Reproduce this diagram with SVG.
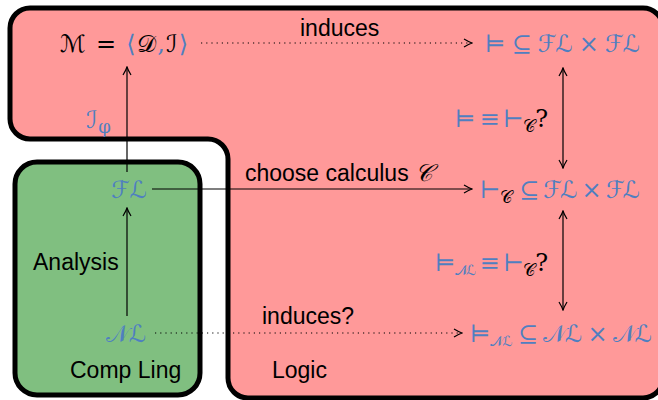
<svg xmlns="http://www.w3.org/2000/svg" width="658" height="400" viewBox="0 0 658 400">
<style>
.reg{stroke:#000;stroke-width:5;stroke-linejoin:round}
.t{font-family:"Liberation Sans","DejaVu Sans",sans-serif;font-size:23px;fill:#000}
.m{font-family:"DejaVu Serif","DejaVu Sans",serif;font-size:24px;fill:#4F7FC0}
.k{fill:#000}
.ln{stroke:#000;stroke-width:1.2;fill:none}
.dot{stroke:#000;stroke-width:1.2;fill:none;stroke-dasharray:1.2 4}
</style>
<defs>
<marker id="ah" viewBox="0 0 10 10" refX="9" refY="5" markerWidth="10" markerHeight="10" markerUnits="userSpaceOnUse" orient="auto-start-reverse">
<path d="M1,1 Q6,4 9,5 Q6,6 1,9" fill="none" stroke="#000" stroke-width="1.2"/>
</marker>
</defs>
<g id="logic">
<path class="reg" fill="#FF9999" d="M10,28 A20,20 0 0 1 30,8 H643 A20,20 0 0 1 663,28 V378 A20,20 0 0 1 643,398 H248 A20,20 0 0 1 228,378 V159 A20,20 0 0 0 208,139 H30 A20,20 0 0 1 10,119 Z"/>
<text class="t" x="272" y="378">Logic</text>
</g>
<g id="compling">
<rect class="reg" fill="#80BF80" x="15" y="162" width="185" height="233" rx="22"/>
<text class="t" x="70" y="378">Comp Ling</text>
<text class="t" x="33" y="270">Analysis</text>
</g>
<g id="connectors">
<line class="dot" x1="201" y1="43" x2="472" y2="43" marker-end="url(#ah)"/>
<line class="ln" x1="152" y1="189" x2="472" y2="189" marker-end="url(#ah)"/>
<line class="dot" x1="155" y1="333" x2="462" y2="333" marker-end="url(#ah)"/>
<line class="ln" x1="127" y1="172" x2="127" y2="67" marker-end="url(#ah)"/>
<line class="ln" x1="127" y1="316" x2="127" y2="208" marker-end="url(#ah)"/>
<line class="ln" x1="563" y1="68" x2="563" y2="168" marker-start="url(#ah)" marker-end="url(#ah)"/>
<line class="ln" x1="563" y1="211" x2="563" y2="310" marker-start="url(#ah)" marker-end="url(#ah)"/>
<text class="t" x="300" y="36">induces</text>
<text class="t" x="245" y="181">choose calculus <tspan class="m k" font-size="24" font-style="italic">𝒞</tspan></text>
<text class="t" x="262" y="324">induces?</text>
<text class="m" x="86" y="128">ℐ<tspan font-size="18" dy="5" dx="1">φ</tspan></text>
<text class="m" x="455" y="127" textLength="93" lengthAdjust="spacing">⊨ ≡ ⊢<tspan class="k" font-size="17" dy="5" dx="1">𝒞</tspan><tspan class="k" dy="-5" dx="2">?</tspan></text>
<text class="m" x="435" y="271" textLength="113" lengthAdjust="spacing">⊨<tspan font-size="14" dy="4" dx="1">𝒩ℒ</tspan><tspan dy="-4"> ≡ ⊢</tspan><tspan class="k" font-size="17" dy="5" dx="1">𝒞</tspan><tspan class="k" dy="-5" dx="2">?</tspan></text>
</g>
<g id="model">
<text class="m" x="60" y="52" textLength="128" lengthAdjust="spacing"><tspan class="k">ℳ =</tspan> ⟨<tspan class="k">𝒟</tspan>,<tspan class="k">ℐ</tspan>⟩</text>
</g>
<g id="entail">
<text class="m" x="485" y="52" textLength="155" lengthAdjust="spacing">⊨ ⊆ ℱℒ × ℱℒ</text>
</g>
<g id="FL">
<text class="m" x="111" y="198">ℱℒ</text>
</g>
<g id="derive">
<text class="m" x="480" y="198" textLength="160" lengthAdjust="spacing">⊢<tspan class="k" font-size="17" dy="5" dx="1">𝒞</tspan><tspan dy="-5" dx="3"> ⊆ ℱℒ × ℱℒ</tspan></text>
</g>
<g id="NL">
<text class="m" x="106" y="342">𝒩ℒ</text>
</g>
<g id="entailNL">
<text class="m" x="470" y="342" textLength="182" lengthAdjust="spacing">⊨<tspan font-size="14" dy="4" dx="1">𝒩ℒ</tspan><tspan dy="-4"> ⊆ 𝒩ℒ × 𝒩ℒ</tspan></text>
</g>
</svg>
